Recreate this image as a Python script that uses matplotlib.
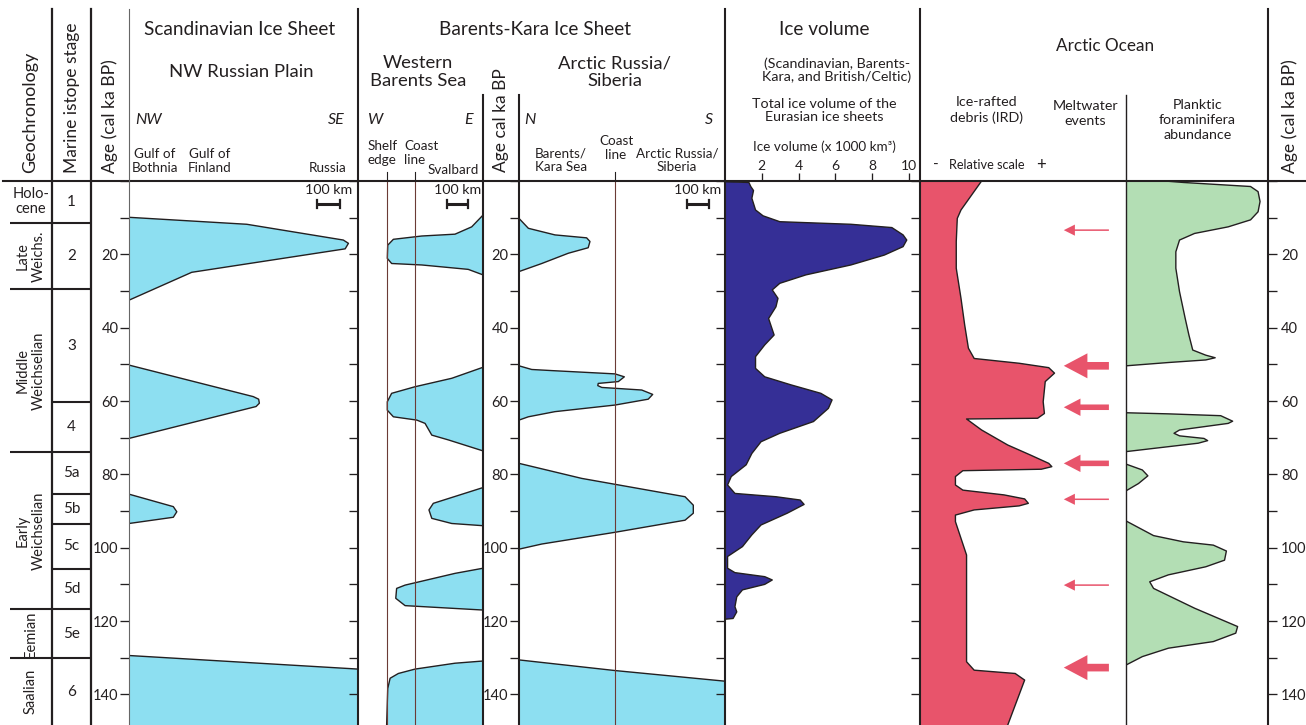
import matplotlib
matplotlib.use("Agg")
import matplotlib.pyplot as plt
from matplotlib.ticker import MultipleLocator, FuncFormatter

plt.rcParams['font.family'] = ['Lato', 'DejaVu Sans']

W, H = 1306, 725
TOP = 181            # pixel row of age 0
PX_KA = 3.667        # pixels per ka
AGE_MAX = (H - TOP) / PX_KA

INK = '#231f20'
ICE = '#8ddff1'
VOL = '#352f96'
IRD = '#e8546b'
FORAM = '#b3deb4'
COAST = '#6b3b36'

# chronology
geo_names = ['Holo-\ncene', 'Late\nWeichs.', 'Middle\nWeichselian',
             'Early\nWeichselian', 'Eemian', 'Saalian']
geo_bounds = [0, 11.4, 29.5, 74.0, 116.8, 130.2]
mis_names = ['1', '2', '3', '4', '5a', '5b', '5c', '5d', '5e', '6']
mis_bounds = [0, 11.4, 29.5, 60.4, 74.0, 85.4, 93.5, 105.8, 116.8, 130.2]

# Scandinavian ice sheet, extent from the NW edge (km)
scand = [
    ([9.9, 11.8, 16.1, 17.0, 18.5, 24.9, 32.5], [0, 505, 919, 941, 927, 269, 0]),
    ([50.2, 58.8, 59.5, 60.6, 61.5, 70.2], [0, 533, 556, 559, 545, 0]),
    ([85.4, 88.8, 90.2, 91.7, 93.4], [0, 190, 205, 190, 0]),
    ([129.4, 133.1, AGE_MAX], [0, 982, 982]),
]
SCAND_W = 982

# Western Barents Sea, ice front position from the W edge (km), ice grows from Svalbard (E)
wbs = [
    ([9.3, 12.5, 14.5, 15.0, 15.9, 17.5, 21.1, 22.5, 22.9, 24.1, 25.6],
     [576, 524, 447, 294, 163, 137, 135, 155, 294, 508, 576]),
    ([50.8, 53.8, 56.1, 57.9, 60.2, 62.5, 64.3, 65.2, 66.1, 69.3, 70.6, 73.6],
     [576, 432, 263, 155, 135, 135, 163, 271, 309, 340, 416, 576]),
    ([83.6, 87.9, 89.7, 92.0, 93.4, 94.0], [576, 347, 327, 340, 432, 576]),
    ([105.6, 107.0, 110.2, 111.1, 113.8, 115.8, 117.0], [576, 447, 217, 178, 174, 217, 576]),
    ([130.9, 131.5, 133.1, 134.3, 135.6, 138.4, AGE_MAX], [576, 447, 263, 186, 148, 137, 132]),
]
WBS_W = 576
wbs_lines = [135, 264]   # shelf edge, coast line

# Arctic Russia / Siberia, extent from the N edge (km)
ars = [
    ([10.2, 12.9, 14.7, 15.5, 16.5, 18.2, 19.7, 22.5, 24.7],
     [0, 42, 161, 303, 318, 310, 221, 102, 0]),
    ([50.4, 51.4, 51.7, 52.6, 53.4, 54.7, 55.2, 55.8, 56.3, 57.0, 58.2, 59.5, 61.1, 62.9, 64.3, 65.2],
     [0, 57, 146, 430, 472, 445, 355, 353, 371, 550, 599, 579, 430, 161, 42, 0]),
    ([77.0, 81.1, 86.1, 88.4, 90.6, 92.5, 95.8, 99.0, 100.4],
     [0, 281, 744, 781, 781, 744, 430, 102, 0]),
    ([130.6, 133.5, 136.4, AGE_MAX], [0, 430, 923, 923]),
]
ARS_W = 923
ars_coast = 431

# total Eurasian ice volume (x 1000 km3)
vol_age = [0.2, 0.4, 1.5, 2.6, 4.7, 7.9, 9.5, 11.1, 11.8, 12.7, 14.7, 16.1, 17.9, 20.2,
           22.9, 25.6, 27.9, 29.7, 32.0, 34.3, 37.5, 42.0, 44.7, 47.9, 51.1, 53.4, 55.6,
           57.9, 59.7, 62.0, 65.6, 68.8, 71.1, 74.3, 77.4, 80.6, 82.9, 85.2, 86.1, 87.0,
           88.2, 90.6, 93.8, 96.5, 99.7, 102.4, 105.6, 106.8, 107.9, 108.8, 110.0, 111.5,
           113.4, 116.1, 117.5, 119.3, 119.5]
vol_val = [0, 1.3, 1.4, 1.55, 1.46, 1.66, 2.07, 2.98, 6.84, 9.07, 9.68, 9.88, 9.68, 8.66,
           6.84, 4.40, 2.98, 2.57, 2.88, 2.77, 2.37, 2.67, 2.16, 1.66, 1.66, 2.16, 3.59,
           5.21, 5.82, 5.62, 4.81, 2.98, 1.96, 1.46, 1.15, 0.34, 0.14, 0.54, 2.77, 4.09,
           4.30, 3.38, 1.96, 1.46, 0.95, 0.14, 0.14, 0.54, 2.16, 2.57, 2.16, 0.95,
           0.64, 0.54, 0.64, 0.44, 0.0]
VOL_W = 10.6

# Arctic Ocean: ice-rafted debris (relative scale)
ird_age = [0, 7.9, 10.2, 16.5, 23.8, 32.0, 39.3, 45.6, 48.4, 49.7, 50.9, 52.4, 54.7, 60.2,
           63.4, 64.7, 64.9, 67.9, 72.0, 74.7, 77.0, 77.9, 78.6, 79.0, 80.6, 82.9, 84.3,
           85.6, 86.7, 87.9, 88.6, 89.7, 91.1, 92.9, 102.0, 112.9, 131.1, 133.4, 134.3,
           136.1, AGE_MAX]
ird_val = [29.9, 19.9, 18.1, 17.6, 17.6, 19.9, 21.7, 23.5, 26.3, 48.1, 62.5, 65.3, 60.8, 59.8,
           60.4, 57.1, 22.6, 29.9, 42.6, 53.5, 62.5, 64.0, 58.9, 20.8, 17.2, 17.2, 20.8,
           40.8, 50.8, 52.6, 48.1, 26.3, 17.2, 17.2, 22.6, 22.6, 22.6, 26.3, 46.2,
           50.8, 42.6]

# meltwater events
melt_age = [13.4, 50.4, 61.7, 77.0, 86.8, 110.2, 132.7]
melt_size = ['small', 'large', 'medium', 'medium', 'small', 'small', 'large']

# planktic foraminifera abundance (relative)
foram = [
    ([0, 0.4, 1.5, 2.9, 5.6, 8.4, 10.6, 12.5, 14.3, 16.1, 19.3, 23.8, 30.2, 37.5, 42.0, 46.1,
      47.5, 48.2, 48.8, 49.5, 50.4],
     [27.3, 40.4, 87.7, 93.0, 94.4, 93.0, 87.7, 72.0, 48.3, 37.7, 35.1, 35.1, 37.7, 41.7,
      44.3, 47.0, 56.2, 62.8, 56.2, 29.9, 0]),
    ([63.2, 63.5, 64.0, 65.5, 66.1, 67.9, 68.8, 69.5, 70.2, 70.8, 71.5, 73.8],
     [0, 29.9, 66.7, 75.1, 72.0, 37.7, 33.8, 37.7, 54.9, 57.5, 50.9, 0]),
    ([77.2, 78.8, 80.4, 82.5, 84.5], [0, 11.5, 15.4, 8.8, 0]),
    ([92.7, 96.7, 98.4, 99.3, 100.9, 103.4, 105.2, 107.4, 109.3, 111.1, 116.5, 120.2, 121.5,
      123.3, 125.6, 127.4, 129.7, 132.0],
     [0, 19.4, 40.4, 61.5, 70.7, 69.4, 56.2, 29.9, 16.7, 19.4, 48.3, 70.7, 78.6, 77.3,
      61.5, 29.9, 11.5, 0]),
]

fig = plt.figure(figsize=(W / 100, H / 100), dpi=100)


def column(x0, x1, xlim):
    ax = fig.add_axes([x0 / W, 0, (x1 - x0) / W, (H - TOP) / H])
    ax.set_xlim(*xlim)
    ax.set_ylim(AGE_MAX, 0)
    for s in ax.spines.values():
        s.set_visible(False)
    ax.set_xticks([])
    ax.yaxis.set_major_locator(MultipleLocator(20))
    ax.yaxis.set_minor_locator(MultipleLocator(10))
    ax.yaxis.set_major_formatter(FuncFormatter(lambda v, p: '' if v == 0 else '%d' % v))
    ax.tick_params(axis='y', which='both', direction='out', length=6.5, width=0.95,
                   color=INK, labelcolor=INK, labelsize=10.5, pad=1,
                   left=False, right=False, labelleft=False, labelright=False)
    ax.patch.set_alpha(0)
    return ax


def profile(ax, age, ext, base, color):
    ax.fill_betweenx(age, base, ext, facecolor=color, edgecolor='none', zorder=1)
    ax.plot(ext, age, color=INK, lw=1.0, solid_joinstyle='round', zorder=2)


def scale_bar(ax, x0, age=6.3):
    ax.plot([x0, x0 + 100], [age, age], color=INK, lw=2.2, solid_capstyle='butt')
    for x in (x0, x0 + 100):
        ax.plot([x, x], [age - 1.1, age + 1.1], color=INK, lw=1.6)
    ax.text(x0 + 50, age - 2.2, '100 km', ha='center', va='bottom', fontsize=10.3, color=INK)


# geochronology and MIS columns
geo = column(10, 52, (0, 1))
mis = column(52, 91, (0, 1))
for b in geo_bounds[1:]:
    geo.axhline(b, color=INK, lw=1.5)
for b in mis_bounds[1:]:
    mis.axhline(b, color=INK, lw=1.5)
for i, name in enumerate(geo_names):
    lo = geo_bounds[i]
    hi = geo_bounds[i + 1] if i + 1 < len(geo_bounds) else AGE_MAX
    rot = 0 if i == 0 else 90
    geo.text(0.5, (lo + hi) / 2, name, ha='center', va='center', rotation=rot,
             fontsize=10.5, color=INK, linespacing=1.1 if i == 0 else 1.2)
for i, name in enumerate(mis_names):
    lo = mis_bounds[i]
    hi = mis_bounds[i + 1] if i + 1 < len(mis_bounds) else AGE_MAX
    mis.text(0.5, (lo + hi) / 2, name, ha='center', va='center', fontsize=11, color=INK)

# Scandinavian ice sheet
ax_s = column(129, 358, (0, SCAND_W))
ax_s.tick_params(axis='y', which='both', left=True, labelleft=True)
for age, km in scand:
    profile(ax_s, age, km, 0, ICE)
scale_bar(ax_s, 806)

# Western Barents Sea
ax_w = column(358, 483, (0, WBS_W))
ax_w.tick_params(axis='y', which='both', left=True)
for age, km in wbs:
    profile(ax_w, age, km, WBS_W, ICE)
for x in wbs_lines:
    ax_w.plot([x, x], [0, AGE_MAX], color=COAST, lw=0.8, zorder=3)
    ax_w.plot([x, x], [-2.5, 0], color=INK, lw=0.8, clip_on=False)
scale_bar(ax_w, 409)

# Arctic Russia / Siberia
ax_a = column(519, 725, (0, ARS_W))
ax_a.tick_params(axis='y', which='both', left=True, labelleft=True)
for age, km in ars:
    profile(ax_a, age, km, 0, ICE)
ax_a.plot([ars_coast, ars_coast], [0, AGE_MAX], color=COAST, lw=0.8, zorder=3)
ax_a.plot([ars_coast, ars_coast], [-2.5, 0], color=INK, lw=0.8, clip_on=False)
scale_bar(ax_a, 751)

# ice volume
ax_v = column(725, 920, (0, VOL_W))
ax_v.tick_params(axis='y', which='both', left=True)
profile(ax_v, vol_age, vol_val, 0, VOL)
ax_v.xaxis.tick_top()
ax_v.set_xticks([2, 4, 6, 8, 10])
ax_v.tick_params(axis='x', direction='out', length=5.5, width=0.95, color=INK,
                 labelcolor=INK, labelsize=10, pad=1)

# IRD and meltwater
ax_i = column(920, 1126, (0, 100))
ax_i.tick_params(axis='y', which='both', left=True)
profile(ax_i, ird_age, ird_val, 0, IRD)
arrow_styles = {
    'large': 'simple,head_length=17,head_width=18,tail_width=5.5',
    'medium': 'simple,head_length=12,head_width=12.5,tail_width=4',
    'small': 'simple,head_length=8,head_width=8,tail_width=1.1',
}
for age, size in zip(melt_age, melt_size):
    ax_i.annotate('', xy=(69.8, age), xytext=(91.7, age),
                  arrowprops=dict(arrowstyle=arrow_styles[size], color=IRD, lw=0,
                                  shrinkA=0, shrinkB=0, mutation_scale=1))

# planktic foraminifera
ax_f = column(1126, 1268, (0, 100))
ax_f.tick_params(axis='y', which='both', right=True, labelright=True, pad=3)
for age, rel in foram:
    profile(ax_f, age, rel, 0, FORAM)

# frame and headers
fr = fig.add_axes([0, 0, 1, 1], zorder=10)
fr.set_xlim(0, W)
fr.set_ylim(H, 0)
fr.axis('off')

fr.plot([3, W], [TOP, TOP], color=INK, lw=1.5)
for x, y0, lw, c in [(52, 9, 1.6, INK), (91, 9, 1.6, INK), (129, 9, 0.8, '#666666'),
                     (358, 9, 1.5, INK), (483, 95, 1.5, INK), (519, 95, 1.5, INK),
                     (725, 9, 1.5, INK), (920, 9, 1.5, INK), (1126, 95, 1.0, INK),
                     (1268, 9, 1.5, INK)]:
    fr.plot([x, x], [y0, H], color=c, lw=lw)


def T(x, y, s, size, **kw):
    kw.setdefault('ha', 'center')
    kw.setdefault('va', 'center')
    fr.text(x, y, s, fontsize=size, color=INK, **kw)


BIG, SUB, MID, SMALL = 13.7, 13.3, 10.3, 9.7
T(30, 173, 'Geochronology', 13, rotation=90, va='bottom')
T(72, 173, 'Marine istope stage', 12.5, rotation=90, va='bottom')
T(110, 173, 'Age (cal ka BP)', 12.6, rotation=90, va='bottom')
T(501, 172, 'Age cal ka BP', 12.5, rotation=90, va='bottom')
T(1290, 173, 'Age (cal ka BP)', 12.6, rotation=90, va='bottom')

T(240, 29, 'Scandinavian Ice Sheet', BIG)
T(241, 72, 'NW Russian Plain', SUB)
T(135, 120, 'NW', 11.5, ha='left', style='italic')
T(345, 120, 'SE', 11.5, ha='right', style='italic')
T(155, 161, 'Gulf of\nBothnia', SMALL, linespacing=1.15)
T(210, 161, 'Gulf of\nFinland', SMALL, linespacing=1.15)
T(347, 168, 'Russia', SMALL, ha='right')

T(535, 29, 'Barents-Kara Ice Sheet', BIG)
T(418, 72, 'Western\nBarents Sea', SUB, linespacing=1.15)
T(615, 72, 'Arctic Russia/\nSiberia', SUB, linespacing=1.15)
T(368, 120, 'W', 11.5, ha='left', style='italic')
T(473, 120, 'E', 11.5, ha='right', style='italic')
T(524, 120, 'N', 11.5, ha='left', style='italic')
T(713, 120, 'S', 11.5, ha='right', style='italic')
T(367.5, 153, 'Shelf\nedge', SMALL, ha='left', linespacing=1.2)
T(404, 153, 'Coast\nline', SMALL, ha='left', linespacing=1.2)
T(453, 170, 'Svalbard', SMALL)
T(561, 160, 'Barents/\nKara Sea', SMALL, linespacing=1.15)
T(616, 148, 'Coast\nline', SMALL, linespacing=1.15)
T(677, 160, 'Arctic Russia/\nSiberia', SMALL, linespacing=1.15)

T(824, 29, 'Ice volume', BIG)
T(837, 70, '(Scandinavian, Barents-\nKara, and British/Celtic)', MID, linespacing=1.05)
T(824, 110, 'Total ice volume of the\nEurasian ice sheets', MID, linespacing=1.1)
T(824, 147, 'Ice volume (x 1000 km³)', SMALL)

T(1105, 46, 'Arctic Ocean', 12.3)
T(987, 110, 'Ice-rafted\ndebris (IRD)', MID, linespacing=1.3)
T(1085.5, 113, 'Meltwater\nevents', MID, linespacing=1.3)
T(1197.6, 120, 'Planktic\nforaminifera\nabundance', MID, linespacing=1.3)
T(935.6, 165, '-', 11)
T(987, 165, 'Relative scale', 9.2)
T(1040.6, 165, '+', 12)

fig.savefig('out.png', dpi=100)
